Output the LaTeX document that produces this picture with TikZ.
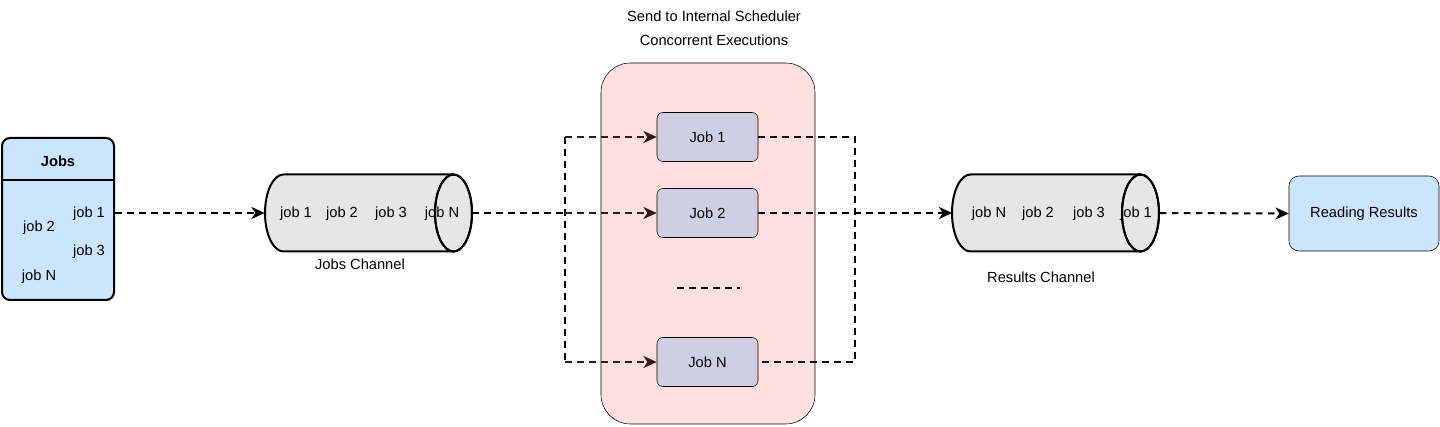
\documentclass[tikz,border=0pt]{standalone}
\usepackage{fontspec}
\setmainfont{Liberation Sans}
\definecolor{listblue}{RGB}{204, 229, 255}
\definecolor{schedpink}{RGB}{255, 223, 224}
\definecolor{jobpurple}{RGB}{208, 206, 226}
\definecolor{chgray}{RGB}{230, 230, 230}
\definecolor{forkbrown}{RGB}{51, 26, 26}
\usetikzlibrary{arrows.meta, positioning}

\tikzset{
  flow/.style={line width=1.5pt, dash pattern=on 5pt off 4pt, -{Stealth[length=10pt, width=9pt, inset=3pt]}},
  link/.style={line width=1.5pt, dash pattern=on 5pt off 4pt},
  chanline/.style={line width=1.5pt, fill=chgray},
  chanend/.style={x radius=13.875pt, y radius=28.875pt},
  jobbox/.style={draw, fill=jobpurple, rounded corners=4.5pt, minimum width=75.75pt, minimum height=36.75pt},
  txt/.style={font=\fontsize{11}{13}\selectfont, inner sep=1pt}
}

\begin{document}
\begin{tikzpicture}[x=0.75pt, y=-0.75pt]
  \useasboundingbox (0, 0) rectangle (1440, 427);

  % Jobs list
  \node[draw, line width=1.5pt, fill=listblue, rounded corners=6pt, minimum width=84pt, minimum height=121.5pt] (jobs) at (58, 219) {};
  \draw[line width=1.2pt] (jobs.west |- 0, 180) -- (jobs.east |- 0, 180);
  \node[txt, font=\fontsize{11}{13}\selectfont\bfseries] (jobstitle) at (58, 161) {Jobs};
  \node[txt] (jl1) at (89, 214) {job 1};
  \node[txt] (jl2) at (39, 228) {job 2};
  \node[txt] (jl3) at (89, 252) {job 3};
  \node[txt] (jlN) at (39, 277) {job N};

  % Jobs channel
  \node[minimum width=155.25pt, minimum height=57.75pt, inner sep=0pt] (jobch) at (368.5, 213) {};
  \filldraw[chanline] (453.5, 174.5) -- (283.5, 174.5) arc[start angle=90, end angle=270, chanend] -- (453.5, 251.5);
  \filldraw[chanline] (453.5, 213) ellipse[chanend];
  \node[txt] (jc1) at (296, 214) {job 1};
  \node[txt] (jc2) at (342, 214) {job 2};
  \node[txt] (jc3) at (391, 214) {job 3};
  \node[txt] (jcN) at (442, 214) {job N};
  \draw[line width=1.5pt] (453.5, 213) ellipse[chanend];
  \node[txt] (jobchlabel) at (360, 264) {Jobs Channel};

  \draw[flow] (jobs.east |- 0, 213) -- (jobch.west);

  % Scheduler
  \node[txt] (schedtitle) at (714, 16) {Send to Internal Scheduler};
  \node[txt] (schedsub) at (714, 40) {Concorrent Executions};
  \node[draw, fill=schedpink, rounded corners=22pt, minimum width=160.5pt, minimum height=270.75pt] (sched) at (708, 243.5) {};

  \node[jobbox, txt] (job1) at (707.5, 137) {Job 1};
  \node[jobbox, txt] (job2) at (707.5, 213) {Job 2};
  \node[jobbox, txt] (jobN) at (707.5, 362) {Job N};
  \coordinate (dotsL) at (677, 288);
  \coordinate (dotsR) at (740, 288);
  \draw[link] (dotsL) -- (dotsR);

  % Fork in
  \coordinate (fl1) at (565, 137);
  \coordinate (fl2) at (565, 213);
  \coordinate (flN) at (565, 362);
  \draw[link] (jobch.east) -- (fl2);
  \draw[link] (fl1) -- (flN);
  \draw[flow, draw=forkbrown] (fl1) -- (job1.west);
  \draw[flow, draw=forkbrown] (fl2) -- (job2.west);
  \draw[flow, draw=forkbrown] (flN) -- (jobN.west);

  % Fork out
  \coordinate (fr1) at (855, 137);
  \coordinate (frN) at (855, 362);
  \draw[link] (job1.east) -- (fr1) -- (frN) -- (jobN.east);

  % Results channel
  \node[minimum width=155.25pt, minimum height=57.75pt, inner sep=0pt] (resch) at (1056, 213) {};
  \filldraw[chanline] (1140.5, 174.5) -- (970.5, 174.5) arc[start angle=90, end angle=270, chanend] -- (1140.5, 251.5);
  \filldraw[chanline] (1140.5, 213) ellipse[chanend];
  \node[txt] (rcN) at (989, 214) {job N};
  \node[txt] (rc2) at (1038, 214) {job 2};
  \node[txt] (rc3) at (1089, 214) {job 3};
  \node[txt] (rc1) at (1136, 214) {job 1};
  \draw[line width=1.5pt] (1140.5, 213) ellipse[chanend];
  \node[txt] (reschlabel) at (1041, 277) {Results Channel};

  \draw[flow] (job2.east) -- (resch.west);

  % Reading results
  \node[draw, fill=listblue, rounded corners=7.5pt, minimum width=112.5pt, minimum height=56.25pt, txt] (reading) at (1364, 213.5) {Reading Results};
  \draw[flow] (resch.east) -- (reading.west);
\end{tikzpicture}
\end{document}
